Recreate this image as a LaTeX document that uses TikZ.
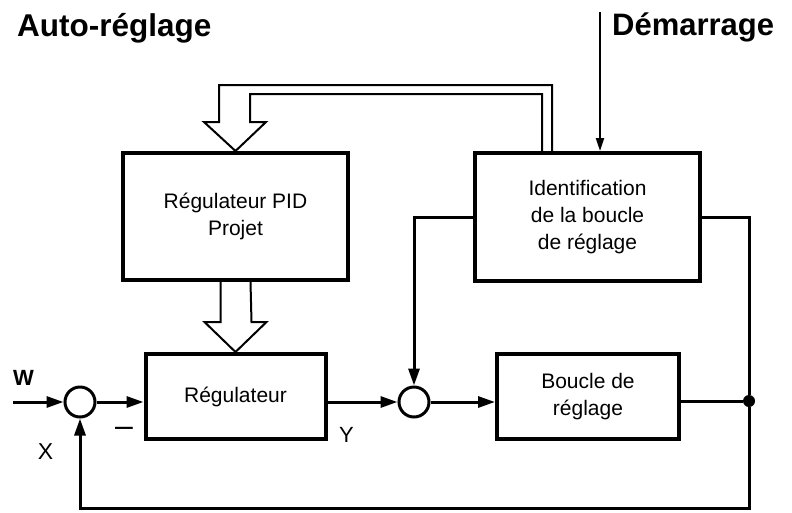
\documentclass[tikz,border=0pt]{standalone}
\usepackage{fontspec}
\setmainfont{Liberation Sans}
\usetikzlibrary{arrows.meta,positioning}

\begin{document}
\begin{tikzpicture}[x=1pt,y=-1pt,every node/.style={font=\fontsize{21}{27}\selectfont},
  blockbox/.style={draw,line width=4pt,align=center,inner sep=0pt},
  sumnode/.style={draw,circle,line width=3pt,minimum size=30pt,inner sep=0pt},
  tapdot/.style={fill,circle,minimum size=12pt,inner sep=0pt},
  sig/.style={line width=3pt,-{Triangle[length=17pt,width=11pt]}},
  hollow/.style={line width=2pt,line join=miter}]
\useasboundingbox (0,0) rectangle (792,512);
\node[blockbox,minimum width=225pt,minimum height=127pt] (pid) at (235.5,216.5) {Régulateur PID\\Projet};
\node[blockbox,minimum width=225pt,minimum height=128pt] (ident) at (587.5,217) {Identification\\de la boucle\\de réglage};
\node[blockbox,minimum width=180pt,minimum height=85pt] (reg) at (235.5,396.5) {Régulateur};
\node[blockbox,minimum width=182pt,minimum height=85pt] (boucle) at (588,396.5) {Boucle de\\réglage};
\node[sumnode] (sum1) at (80,402) {};
\node[sumnode] (sum2) at (414,402) {};
\node[tapdot] (tap) at (749,401) {};
\coordinate (win) at (13,402);
\coordinate (fb) at (749,508);
\coordinate (start) at (600,12);
\draw[sig] (win) -- (sum1);
\draw[sig] (sum1) -- (sum1 -| reg.west);
\draw[sig] (reg.east |- sum2) -- (sum2);
\draw[sig] (sum2) -- (sum2 -| boucle.west);
\draw[line width=3pt] (boucle.east |- tap) -- (tap);
\draw[sig] (tap) -- (fb) -| (sum1);
\draw[sig] (ident.west) -| (sum2);
\draw[line width=3pt] (ident.east) -| (tap);
\draw[line width=2pt,-{Triangle[length=13pt,width=8pt]}] (start) -- (start |- ident.north);
% hollow arrows
\draw[hollow] ([xshift=-15pt]pid.south) -- ++(0,40) -- ++(-16,0) -- (reg.north) -- ++(31,-30) -- ++(-15,0) -- ([xshift=15pt]pid.south);
\draw[hollow] (552,151) -- (552,85) -- (219,85) -- (219,122) -- (204,122) -- (pid.north) -- (266,122) -- (250,122) -- (250,94) -- (542,94) -- (542,151);
% labels
\node[font=\fontsize{31.5}{36}\selectfont\bfseries,anchor=base west,inner sep=0] (title) at (17,36) {Auto-réglage};
\node[font=\fontsize{31}{36}\selectfont\bfseries,anchor=base west,inner sep=0] (startlab) at (612,35) {Démarrage};
\node[font=\fontsize{22}{26}\selectfont\bfseries,anchor=base,inner sep=0] (wlab) at (23.5,385) {W};
\node[font=\fontsize{23}{27}\selectfont,inner sep=0] (xlab) at (45.5,451.5) {X};
\node[font=\fontsize{32}{36}\selectfont,inner sep=0] (minus) at (124,432) {–};
\node[font=\fontsize{22}{26}\selectfont,inner sep=0] (ylab) at (346.5,435) {Y};
\end{tikzpicture}
\end{document}
